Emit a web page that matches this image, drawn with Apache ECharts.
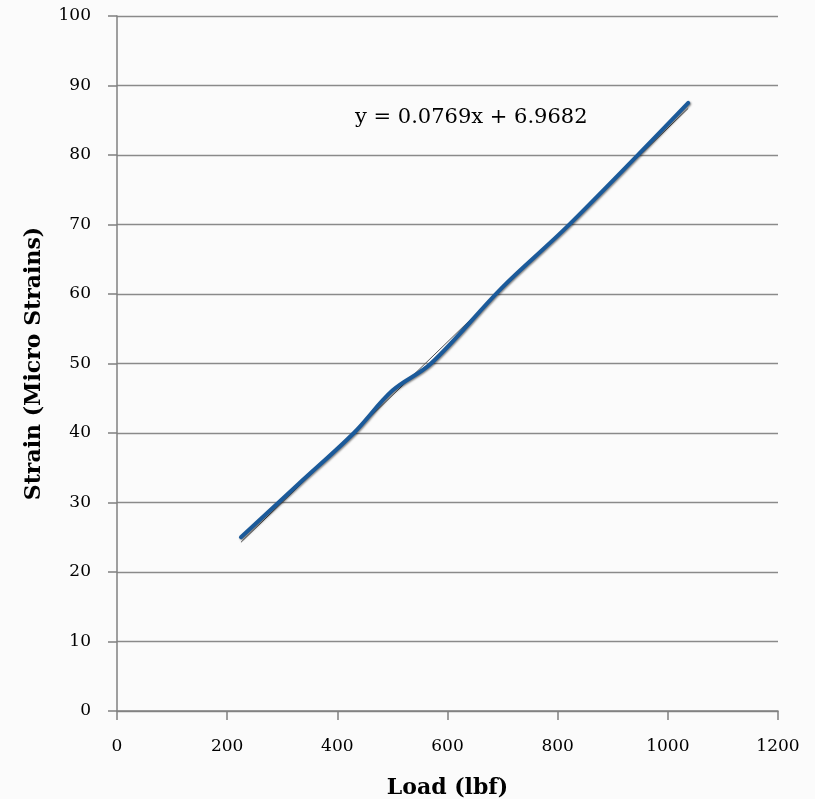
<!DOCTYPE html>
<html>
<head>
<meta charset="utf-8">
<script src="https://cdn.jsdelivr.net/npm/echarts@6/dist/echarts.min.js"></script>
<style>html,body{margin:0;padding:0;background:#fbfbfb;}#c{width:815px;height:799px;}</style>
</head>
<body>
<div id="c"></div>
<script>
const loads = [225, 330, 430, 500, 570, 700, 820, 1037];
const strains = [25.0, 32.7, 40.0, 46.1, 50.0, 61.0, 69.9, 87.5];
const xTicks = [0, 200, 400, 600, 800, 1000, 1200];
const yTicks = [0, 10, 20, 30, 40, 50, 60, 70, 80, 90, 100];
const trendSlope = 0.0769;
const trendIntercept = 6.9682;
const trendLabel = 'y = 0.0769x + 6.9682';
const xTitle = 'Load (lbf)';
const yTitle = 'Strain (Micro Strains)';

const xMin = Math.min(...loads), xMax = Math.max(...loads);
const trendData = [[xMin, trendSlope * xMin + trendIntercept], [xMax, trendSlope * xMax + trendIntercept]];
const serif = '"DejaVu Serif", "Liberation Serif", serif';

const chart = echarts.init(document.getElementById('c'));
chart.setOption({
  backgroundColor: '#fbfbfb',
  animation: false,
  grid: {left: 117, right: 37, top: 16, bottom: 88, containLabel: false, outerBoundsMode: 'none'},
  xAxis: {
    type: 'value', min: xTicks[0], max: xTicks[xTicks.length - 1], interval: 200,
    name: xTitle, nameLocation: 'middle', nameGap: 66,
    nameTextStyle: {fontFamily: serif, fontWeight: 'bold', fontSize: 22, color: '#000'},
    axisLine: {lineStyle: {color: '#808080', width: 1.5}},
    axisTick: {show: true, length: 9, lineStyle: {color: '#808080', width: 1.5}},
    axisLabel: {fontFamily: serif, fontSize: 17, color: '#000', margin: 27, formatter: v => String(v)},
    splitLine: {show: false}
  },
  yAxis: {
    type: 'value', min: yTicks[0], max: yTicks[yTicks.length - 1], interval: 10,
    name: yTitle, nameLocation: 'middle', nameGap: 72, nameRotate: 90,
    nameTextStyle: {fontFamily: serif, fontWeight: 'bold', fontSize: 22, color: '#000'},
    axisLine: {show: true, lineStyle: {color: '#808080', width: 1.5}},
    axisTick: {show: true, length: 9, lineStyle: {color: '#808080', width: 1.5}},
    axisLabel: {fontFamily: serif, fontSize: 17, color: '#000', margin: 26, formatter: v => String(v)},
    splitLine: {show: true, lineStyle: {color: '#8a8a8a', width: 1.3}}
  },
  series: [
    {
      type: 'line', data: trendData, symbol: 'none', z: 2,
      lineStyle: {color: '#555', width: 1}
    },
    {
      type: 'line', data: loads.map((x, i) => [x, strains[i]]), symbol: 'none', smooth: 0.35, z: 3,
      lineStyle: {color: '#1b5a9a', width: 4, cap: 'round',
        shadowColor: 'rgba(0,0,0,0.5)', shadowBlur: 2, shadowOffsetX: 1, shadowOffsetY: 1}
    }
  ],
  graphic: [{
    type: 'text', left: 355, top: 107,
    style: {text: trendLabel, font: '21px ' + serif, fill: '#000'}
  }]
});
</script>
</body>
</html>
